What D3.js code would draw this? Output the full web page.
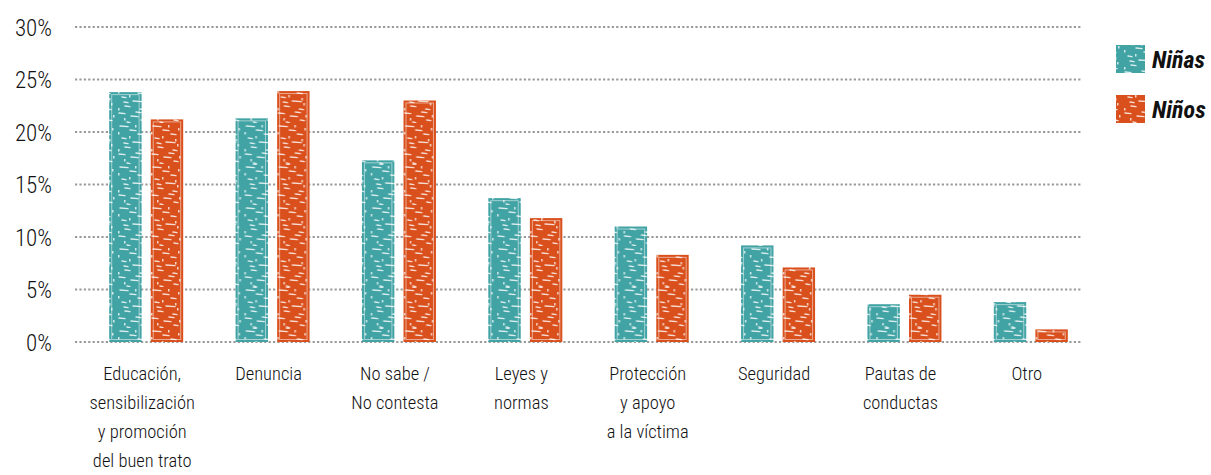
<!DOCTYPE html>
<html><head><meta charset="utf-8">
<script src="https://cdn.jsdelivr.net/npm/d3@7/dist/d3.min.js"></script>
<style>
body{margin:0;background:#fff;}
text{font-family:"Liberation Sans Narrow","Arial Narrow","Roboto Condensed","DejaVu Sans Condensed",sans-serif;fill:#111;}
.lt{font-weight:300;}
</style></head><body>
<svg id="c" width="1211" height="475"></svg>
<script>
const categories = [
  ["Educación,","sensibilización","y promoción","del buen trato"],
  ["Denuncia"],
  ["No sabe /","No contesta"],
  ["Leyes y","normas"],
  ["Protección","y apoyo","a la víctima"],
  ["Seguridad"],
  ["Pautas de","conductas"],
  ["Otro"]
];
const ninas = [23.8, 21.3, 17.3, 13.7, 11.0, 9.2, 3.6, 3.8];
const ninos = [21.2, 23.9, 23.0, 11.8, 8.3, 7.1, 4.5, 1.2];
const seriesNames = ["Niñas", "Niños"];
const colors = ["#42a3a5", "#d9501d"];
const yTicks = [0, 5, 10, 15, 20, 25, 30];

const svg = d3.select("#c");
const defs = svg.append("defs");
colors.forEach((c,i)=>{
  const p = defs.append("pattern").attr("id","tex"+i).attr("patternUnits","userSpaceOnUse")
    .attr("width",33).attr("height",41);
  p.append("rect").attr("width",33).attr("height",41).attr("fill",c);
  const marks = [[4,3,8],[14,7,6],[22,11,5],[6,15,4],[17,19,9],[9,24,5],[24,27,4],[3,31,6],[15,34,7],[25,38,4],[11,40,3],[20,30,5],[8,20,4]];
  marks.forEach(m=>p.append("line").attr("x1",m[0]).attr("x2",m[0]+m[2]).attr("y1",m[1]).attr("y2",m[1]+0.6)
    .attr("stroke","#fff").attr("stroke-opacity",0.8).attr("stroke-width",1.4).attr("stroke-linecap","round"));
  const dots = [[2,9],[29,5],[28,21],[2,26],[30,33],[19,2],[8,36],[13,13],[26,16]];
  dots.forEach(d=>p.append("rect").attr("x",d[0]).attr("y",d[1]).attr("width",1.5).attr("height",2.5).attr("fill","#fff").attr("fill-opacity",0.75));
});

const y = d3.scaleLinear().domain([0,30]).range([342,27]);
const x0 = d3.scaleBand().domain(d3.range(categories.length)).range([83,1094]);
const x1 = d3.scaleBand().domain([0,1]).range([x0.bandwidth()/2-37, x0.bandwidth()/2+37]).paddingInner(0.22);

// grid
const grid = svg.append("g");
grid.selectAll("line").data(yTicks).join("line")
  .attr("x1",75).attr("x2",1082).attr("y1",d=>y(d)).attr("y2",d=>y(d))
  .attr("stroke","#9a9a9a").attr("stroke-width",2.2).attr("stroke-dasharray","2.2,2.2");

// y axis labels
const yAxis = d3.axisLeft(y).tickValues(yTicks).tickFormat(d=>d+"%").tickSize(0).tickPadding(0);
const ga = svg.append("g").attr("transform","translate(52,0)").call(yAxis);
ga.select(".domain").remove();
ga.selectAll("text").attr("class","lt").attr("font-size",23).attr("dy","0.36em").style("font-family",null).attr("fill","#111");

// bars
const data = categories.map((c,i)=>({i, vals:[ninas[i], ninos[i]]}));
const groups = svg.append("g").selectAll("g").data(data).join("g")
  .attr("transform",d=>`translate(${x0(d.i)},0)`);
groups.selectAll("rect.bar").data(d=>d.vals.map((v,k)=>({v,k}))).join("rect")
  .attr("class","bar")
  .attr("x",d=>x1(d.k)).attr("width",x1.bandwidth())
  .attr("y",d=>y(d.v)).attr("height",d=>y(0)-y(d.v))
  .attr("fill",d=>`url(#tex${d.k})`);
groups.selectAll("rect.edge").data(d=>d.vals.map((v,k)=>({v,k}))).join("rect")
  .attr("class","edge")
  .attr("x",d=>x1(d.k)+2.5).attr("width",x1.bandwidth()-5)
  .attr("y",d=>y(d.v)+2.5).attr("height",d=>Math.max(0,y(0)-y(d.v)-5))
  .attr("fill","none").attr("stroke","#fff").attr("stroke-opacity",0.5).attr("stroke-width",1);

// category labels
const lx = x0.bandwidth()/2 - 4;
groups.append("text").attr("class","lt").attr("text-anchor","middle").attr("font-size",18.5)
  .attr("x",lx).attr("y",380)
  .selectAll("tspan").data(d=>categories[d.i]).join("tspan")
  .attr("x",lx).attr("dy",(d,j)=>j===0?0:29).text(d=>d);

// legend
const lg = svg.append("g");
seriesNames.forEach((s,k)=>{
  const yy = 45 + k*50;
  lg.append("rect").attr("x",1116).attr("y",yy).attr("width",29).attr("height",28).attr("fill",`url(#tex${k})`);
  lg.append("text").attr("x",1152).attr("y",yy+14).attr("dy","0.36em")
    .attr("font-size",24).attr("font-weight","bold").attr("font-style","italic").text(s);
});
</script>
</body></html>
